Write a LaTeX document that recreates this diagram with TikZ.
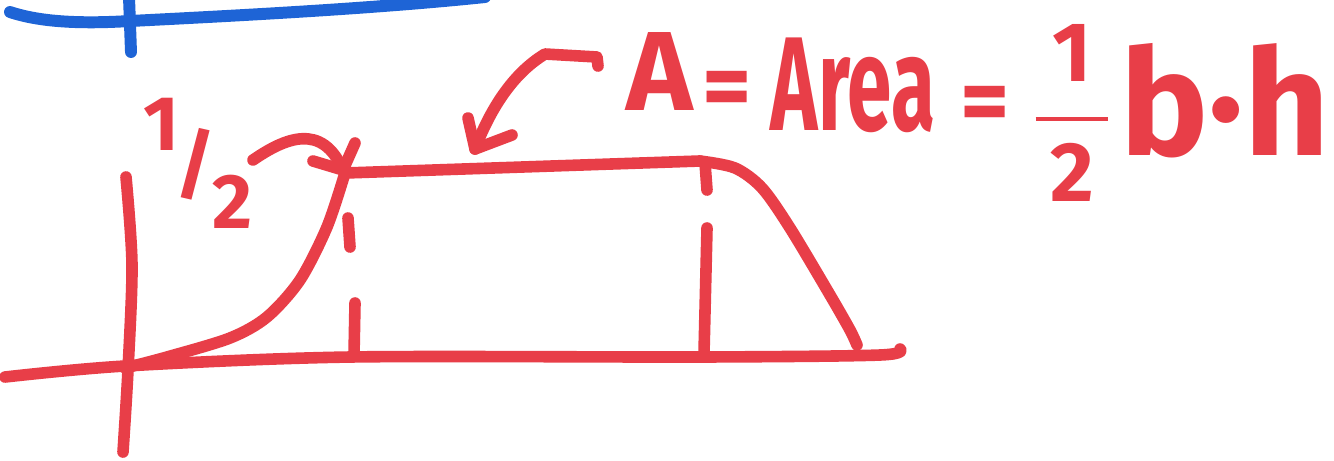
\documentclass[tikz,border=0pt]{standalone}
\usepackage{fontspec}
\setmainfont{Fira Sans}
\usepackage{amsmath}
\definecolor{mk}{RGB}{232,62,72}
\definecolor{bl}{RGB}{30,100,214}
\begin{document}
\begin{tikzpicture}[x=0.01cm,y=-0.01cm,
  pen/.style={draw=mk, line width=3.3pt, line cap=round, line join=round},
  bluepen/.style={draw=bl, line width=3.4pt, line cap=round, line join=round},
  hand/.style={text=mk, inner sep=0pt, font=\bfseries}]
\useasboundingbox[fill=white] (0,0) rectangle (1334,460);
% blue line at the top
\draw[bluepen] (10,12) .. controls (40,22) and (80,24) .. (130,21) .. controls (250,15) and (380,8) .. (485,-3);
\draw[bluepen] (129,-3) -- (131,52);
% axes
\draw[pen] plot[smooth] coordinates {(5,377) (125,366) (350,357) (700,357) (880,355) (900,349)};
\draw[pen] plot[smooth] coordinates {(126,177) (132,265) (128,370) (123,452)};
% curve
\coordinate (O) at (125,368);
\coordinate (P) at (345,173);
\coordinate (Q) at (700,161);
\draw[pen] plot[smooth] coordinates {(O) (167,357) (230,338) (267,317) (300,280) (327,227) (P)};
\draw[pen] (P) -- (Q);
\draw[pen] plot[smooth] coordinates {(Q) (735,168) (762,188) (790,228) (830,295) (850,330) (857,345)};
% dashed verticals
\draw[pen] (348,218) -- (350,247);
\draw[pen] (355,303) -- (354,355);
\draw[pen] (705,163) -- (707,190);
\draw[pen] (707,228) -- (704,353);
% label 1/2 with its arrow
\node[hand, font=\bfseries\fontsize{22}{24}\selectfont] (half) at (198,163)
  {\raisebox{1.0ex}{1}\kern-0.05em/\kern-0.05em\raisebox{-0.9ex}{2}};
\coordinate (ht) at (343,170);
\draw[pen] (253,160) .. controls (285,138) and (322,122) .. (ht);
\draw[pen] (313,161) -- (ht) -- (355,143);
% arrow to the top line
\coordinate (at) at (475,149);
\draw[pen] (598,66) -- (597,57) -- (545,54) .. controls (512,74) and (490,110) .. (at);
\draw[pen] (468,118) -- (at) -- (512,135);
% formula
\node[hand, anchor=base, font=\bfseries\fontsize{32}{34}\selectfont] (A) at (660,110) {A};
\node[hand, anchor=base, font=\bfseries\fontsize{27}{30}\selectfont] (eq1) at (727,118) {=};
\node[hand, anchor=base, xscale=0.6, font=\bfseries\fontsize{38}{40}\selectfont] (area) at (853,130) {Area};
\node[hand, anchor=base, font=\bfseries\fontsize{27}{30}\selectfont] (eq2) at (985,133) {=};
\node[hand, font=\bfseries\fontsize{24}{28}\selectfont] (frac) at (1072,113) {$\displaystyle\frac{\,\textbf{1}\,}{\,\textbf{2}\,}$};
\node[hand, anchor=base, font=\bfseries\fontsize{42}{46}\selectfont] (bh) at (1225,155) {b·h};
\end{tikzpicture}
\end{document}
